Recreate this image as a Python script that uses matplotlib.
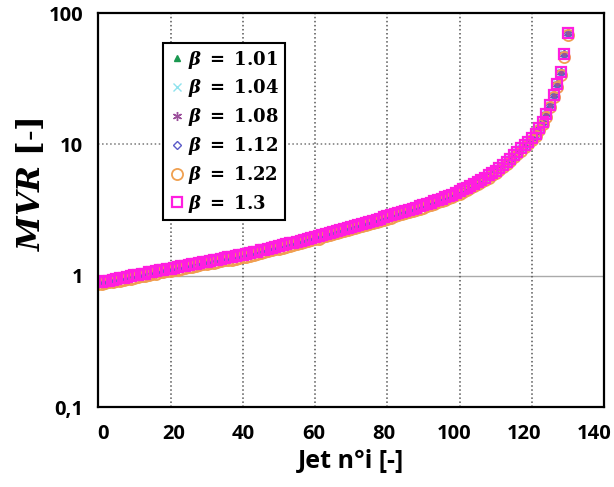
import numpy as np
import matplotlib.pyplot as plt
from matplotlib.transforms import ScaledTranslation

####
# Data
#===
jets = np.arange(0, 131)

mvr_main = [
    0.89, 0.90, 0.91, 0.92, 0.93, 0.95, 0.96, 0.97, 0.98, 0.99,
    1.01, 1.02, 1.03, 1.04, 1.06, 1.07, 1.08, 1.10, 1.11, 1.12,
    1.135, 1.15, 1.16, 1.18, 1.19, 1.21, 1.22, 1.24, 1.25, 1.27,
    1.28, 1.30, 1.31, 1.33, 1.35, 1.36, 1.38, 1.39, 1.41, 1.43,
    1.44, 1.46, 1.48, 1.51, 1.53, 1.56, 1.58, 1.61, 1.63, 1.66,
    1.68, 1.71, 1.74, 1.77, 1.79, 1.82, 1.85, 1.88, 1.91, 1.94,
    1.97, 2.00, 2.04, 2.08, 2.12, 2.16, 2.20, 2.24, 2.28, 2.32,
    2.36, 2.40, 2.44, 2.49, 2.53, 2.58, 2.63, 2.68, 2.73, 2.78,
    2.84, 2.89, 2.95, 3.00, 3.06, 3.12, 3.18, 3.24, 3.31, 3.38,
    3.45, 3.52, 3.60, 3.68, 3.77, 3.86, 3.96, 4.06, 4.16, 4.28,
    4.40, 4.55, 4.70, 4.86, 5.02, 5.20, 5.40, 5.60, 5.82, 6.05,
    6.30, 6.65, 7.00, 7.40, 7.80, 8.30, 8.80, 9.35, 9.90, 10.5,
    11.2, 12.1, 13.3, 14.8, 17.0, 20.0, 23.8, 28.7, 35.5, 48.6,
    71.0]

mvr_122 = [
    0.86, 0.87, 0.88, 0.89, 0.90, 0.91, 0.92, 0.93, 0.94, 0.95,
    0.97, 0.98, 0.99, 1.00, 1.02, 1.03, 1.04, 1.06, 1.07, 1.08,
    1.09, 1.10, 1.11, 1.13, 1.14, 1.16, 1.17, 1.19, 1.20, 1.22,
    1.23, 1.25, 1.26, 1.28, 1.30, 1.31, 1.32, 1.33, 1.35, 1.37,
    1.38, 1.40, 1.42, 1.45, 1.47, 1.50, 1.52, 1.55, 1.56, 1.59,
    1.61, 1.64, 1.67, 1.70, 1.72, 1.75, 1.78, 1.80, 1.83, 1.86,
    1.89, 1.92, 1.96, 2.00, 2.04, 2.07, 2.11, 2.15, 2.19, 2.23,
    2.27, 2.30, 2.34, 2.39, 2.43, 2.48, 2.52, 2.57, 2.62, 2.67,
    2.73, 2.77, 2.83, 2.88, 2.94, 3.00, 3.05, 3.11, 3.18, 3.24,
    3.31, 3.38, 3.46, 3.53, 3.62, 3.71, 3.80, 3.90, 3.99, 4.11,
    4.22, 4.37, 4.51, 4.67, 4.82, 4.99, 5.18, 5.38, 5.59, 5.81,
    6.05, 6.38, 6.72, 7.10, 7.49, 7.97, 8.45, 8.98, 9.50, 10.1,
    10.8, 11.6, 12.8, 14.2, 16.3, 19.2, 22.8, 27.6, 34.1, 46.7,
    68.2]

# the other series sit right on top of each other in the picture
mvr_101 = mvr_main
mvr_104 = mvr_main
mvr_108 = mvr_main
mvr_112 = mvr_main
mvr_130 = mvr_main

beta_labels = ['1.01', '1.04', '1.08', '1.12', '1.22', '1.3']

xticks = [0, 20, 40, 60, 80, 100, 120, 140]
yticks = [0.1, 1, 10, 100]
ytick_labels = ['0,1', '1', '10', '100']

####
# Plot
#===
plt.rcParams['mathtext.fontset'] = 'dejavuserif'

fig = plt.figure(figsize=(6.14, 4.87), dpi=100)
ax = fig.add_axes([0.16, 0.164, 0.824, 0.809])

series = [mvr_101, mvr_104, mvr_108, mvr_112, mvr_122, mvr_130]
styles = [
    dict(marker='^', color='#1a9850', mfc='#1a9850', ms=5),
    dict(marker='x', color='#8fe3ee', mfc='none', ms=5.5, mew=1.0),
    dict(marker=(6, 2, 0), color='#9b4f9b', mfc='none', ms=6.5, mew=1.0),
    dict(marker='D', color='#5b5bc8', mfc='none', ms=4, mew=1.0),
    dict(marker='o', color='#f0a050', mfc='none', ms=8, mew=1.3),
    dict(marker='s', color='#ff1ee0', mfc='none', ms=6.8, mew=1.6),
]
for vals, lab, st in zip(series, beta_labels, styles):
    ax.plot(jets, vals, ls='none',
            label=r'$\boldsymbol{\beta}\ \mathbf{=}\ \mathbf{%s}$' % lab, **st)

ax.set_yscale('log')
ax.set_xlim(0, 140)
ax.set_ylim(0.1, 100)
ax.set_xticks(xticks)
ax.set_yticks(yticks)
ax.set_yticklabels(ytick_labels)
ax.minorticks_off()
ax.tick_params(axis='x', length=0, pad=12)
ax.tick_params(axis='y', length=0, pad=11)
for t in ax.get_xticklabels() + ax.get_yticklabels():
    t.set_fontfamily('Open Sans')
    t.set_fontweight('bold')
    t.set_fontsize(14.5)

# x labels in the reference drift a little against the grid
for i, t in enumerate(ax.get_xticklabels()):
    dx = (5 - 2.13 * i) / 100.0
    t.set_transform(t.get_transform() + ScaledTranslation(dx, 0, fig.dpi_scale_trans))

ax.grid(True, which='major', axis='x', ls=':', color='#555555', lw=1.1)
ax.axhline(10, ls=':', color='#777777', lw=1.1, zorder=0)
ax.axhline(1, ls='-', color='#aaaaaa', lw=1.0, zorder=0)
for sp in ax.spines.values():
    sp.set_linewidth(1.6)
    sp.set_color('black')

ax.set_xlabel('Jet n°i [-]', fontfamily='Open Sans', fontweight='bold', fontsize=18, labelpad=4)
ax.set_ylabel(r'$\boldsymbol{MVR}$ $\mathbf{[\text{-}]}$', fontsize=22.5)
ax.yaxis.set_label_coords(-0.103, 0.565)

leg = ax.legend(loc='upper left', bbox_to_anchor=(0.128, 0.924), fontsize=13,
                frameon=True, fancybox=False, edgecolor='black', framealpha=1,
                handletextpad=0.1, borderpad=0.3, labelspacing=0.38,
                handlelength=1.0, borderaxespad=0)
leg.get_frame().set_linewidth(1.5)

fig.savefig('out.png', dpi=100)
